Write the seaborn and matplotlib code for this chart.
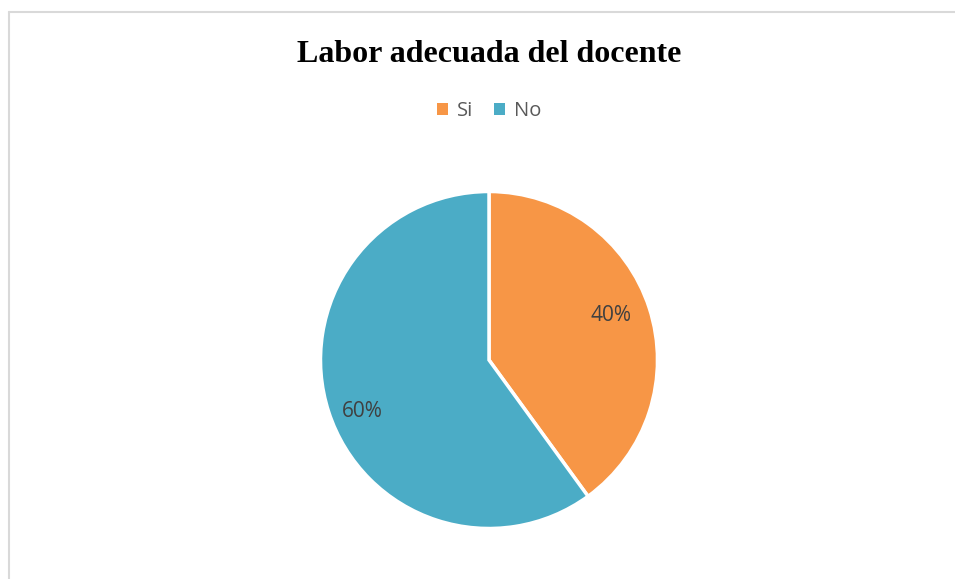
import matplotlib
matplotlib.use("Agg")
import numpy as np
import matplotlib.pyplot as plt
from matplotlib.patches import Patch
from matplotlib.lines import Line2D
import seaborn as sns

# Survey answers and their shares
categories = ["Si", "No"]
shares = [40, 60]
title_text = "Labor adecuada del docente"

sns.set_theme(style="white")
plt.rcParams["font.family"] = ["Open Sans", "DejaVu Sans"]

colors = ["#F79646", "#4BACC6"]

W, H = 955, 579
fig = plt.figure(figsize=(W / 100, H / 100), dpi=100)
fig.patch.set_facecolor("white")

# Chart area frame (top and left edges)
frame_color = "#D9D9D9"
fig.add_artist(Line2D([8.5 / W, 8.5 / W], [0, 1 - 11.5 / H], transform=fig.transFigure,
                      color=frame_color, lw=1.5))
fig.add_artist(Line2D([8.5 / W, 1], [1 - 11.5 / H, 1 - 11.5 / H], transform=fig.transFigure,
                      color=frame_color, lw=1.5))

# Pie axes: centre (489, 360) px, radius ~168.5 px
cx, cy, r = 489, 360, 168.5
pad = 172
ax = fig.add_axes([(cx - pad) / W, (H - cy - pad) / H, 2 * pad / W, 2 * pad / H])
wedges, texts, autotexts = ax.pie(
    shares,
    colors=colors,
    startangle=90,
    counterclock=False,
    autopct="%1.0f%%",
    pctdistance=0.79,
    wedgeprops=dict(edgecolor="white", linewidth=2.5),
    textprops=dict(color="#404040", fontsize=15),
    radius=1.0,
)
# Best-fit style nudges of the percentage labels inside each wedge
label_shift_deg = [2.0, 4.0]
label_dist = [0.77, 0.81]
for w, t, d_ang, d in zip(wedges, autotexts, label_shift_deg, label_dist):
    mid = np.deg2rad((w.theta1 + w.theta2) / 2 + d_ang)
    t.set_position((d * np.cos(mid), d * np.sin(mid)))

lim = pad / r
ax.set_xlim(-lim, lim)
ax.set_ylim(-lim, lim)
ax.set_aspect("auto")
ax.axis("off")

fig.text(cx / W, 1 - 55 / H, title_text, ha="center", va="center",
         fontsize=23, fontweight="bold", family=["Liberation Serif", "DejaVu Serif"],
         color="black")

handles = [Patch(facecolor=c, edgecolor="none") for c in colors]
fig.legend(handles, categories, loc="center", bbox_to_anchor=(cx / W, 1 - 111 / H),
           ncol=2, frameon=False, fontsize=14.5, handlelength=0.55, handleheight=0.55,
           handletextpad=0.45, columnspacing=1.0, labelcolor="#595959")

fig.savefig("out.png", dpi=100, facecolor="white")
